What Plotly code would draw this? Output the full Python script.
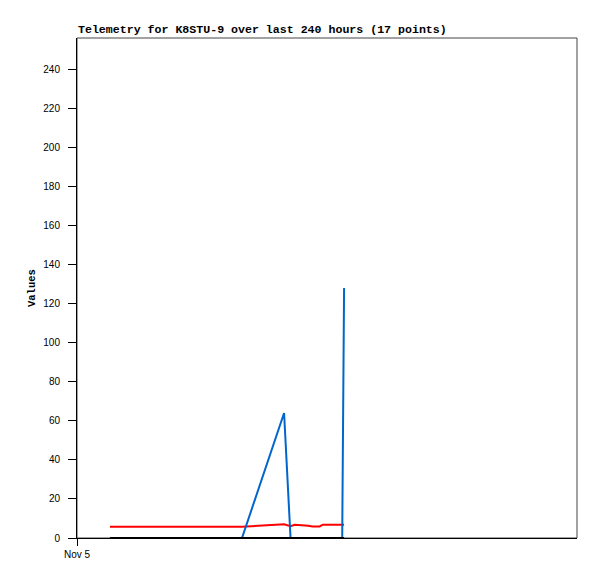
import plotly.graph_objects as go
from datetime import datetime, timedelta

# ---- data ----
start = datetime(2024, 11, 5, 0, 0)
hours = [15.8, 79.2, 99.4, 102.5, 104.5, 108.5, 111.0, 113.0, 116.5, 118.0,
         120.0, 122.0, 124.0, 125.5, 126.5, 127.3, 128.2]
blue_vals = [0, 0, 64, 0, 0, 0, 0, 0, 0, 0, 0, 0, 0, 0, 0, 0, 128]
red_vals = [5.8, 5.8, 7.0, 6.1, 6.8, 6.6, 6.3, 5.9, 5.9, 6.8,
            6.8, 6.8, 6.8, 6.8, 6.8, 6.8, 6.8]
black_vals = [0] * 17
y_ticks = list(range(0, 241, 20))
x_tick_labels = ["Nov 5"]
title_text = "Telemetry for K8STU-9 over last 240 hours (17 points)"
y_title = "Values"

times = [start + timedelta(hours=h) for h in hours]
x_end = start + timedelta(hours=240)

fig = go.Figure()
fig.add_trace(go.Scatter(x=times, y=red_vals, mode="lines",
                         line=dict(color="#FF0000", width=2), showlegend=False))
fig.add_trace(go.Scatter(x=times, y=blue_vals, mode="lines",
                         line=dict(color="#0066CC", width=2), showlegend=False))
fig.add_trace(go.Scatter(x=times, y=black_vals, mode="lines",
                         line=dict(color="#000000", width=2), showlegend=False))

tick_font = dict(family="Liberation Sans, Arial, sans-serif", size=10, color="#000000")
title_font = dict(family="Liberation Mono, Courier New, monospace", size=11.6, color="#000000")
ytitle_font = dict(family="Liberation Mono, Courier New, monospace", size=10.5, color="#000000")

fig.update_layout(
    width=597, height=579,
    margin=dict(l=77, r=20, t=38, b=41, pad=0, autoexpand=False),
    paper_bgcolor="white", plot_bgcolor="white",
    showlegend=False,
    xaxis=dict(
        type="date", range=[start, x_end], automargin=False,
        tickmode="array", tickvals=[start], ticktext=x_tick_labels,
        showgrid=False, zeroline=False,
        showline=True, linecolor="#000000", linewidth=1, mirror=False,
        ticks="outside", ticklen=7, tickcolor="#000000", tickwidth=1,
        tickfont=tick_font,
    ),
    yaxis=dict(
        range=[0, 256], automargin=False,
        tickmode="array", tickvals=y_ticks,
        showgrid=False, zeroline=False,
        showline=True, linecolor="#000000", linewidth=1, mirror=False,
        ticks="outside", ticklen=8, tickcolor="#000000", tickwidth=1,
        tickfont=tick_font, ticklabelstandoff=6,
    ),
    shapes=[dict(type="rect", xref="paper", yref="paper", x0=0, x1=1, y0=0, y1=1,
                 line=dict(color="#444444", width=1), layer="below")],
    annotations=[
        dict(text="<b>%s</b>" % title_text, xref="paper", yref="paper",
             x=0, y=1, xanchor="left", yanchor="bottom", showarrow=False,
             font=title_font, xshift=-1, yshift=0),
        dict(text="<b>%s</b>" % y_title, xref="paper", yref="paper",
             x=0, y=0.5, xanchor="center", yanchor="middle", showarrow=False,
             textangle=-90, font=ytitle_font, xshift=-45),
    ],
)

fig.write_html(
    "out.html",
    config={"displayModeBar": False},
    post_script="document.body.style.margin='0';document.body.style.overflow='hidden';",
)
